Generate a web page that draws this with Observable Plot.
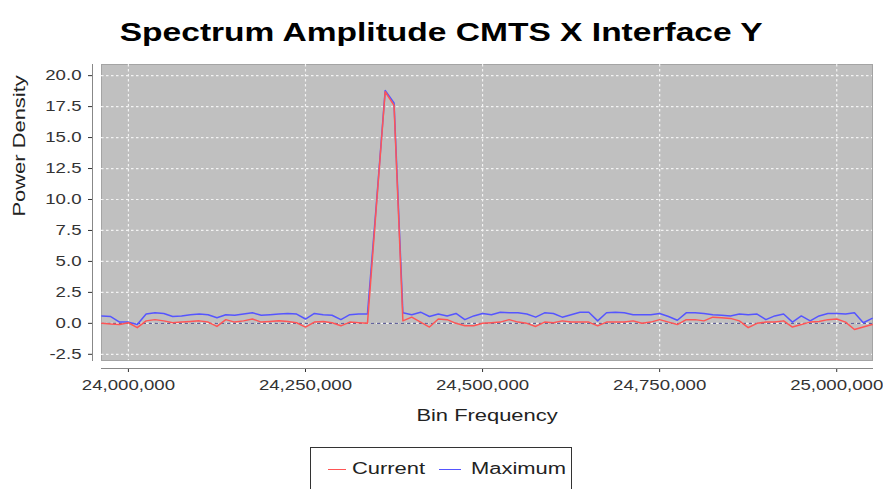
<!DOCTYPE html>
<html><head><meta charset="utf-8">
<script src="https://cdn.jsdelivr.net/npm/d3@7"></script>
<script src="https://cdn.jsdelivr.net/npm/@observablehq/plot@0.6"></script>
<style>
body{margin:0;background:#fff;overflow:hidden;font-family:"Liberation Sans",Arial,sans-serif;}
#wrap{position:relative;width:883px;height:489px;overflow:hidden;background:#fff;}
#title{height:55px;text-align:center;line-height:64px;font-weight:bold;font-size:26px;color:#000;white-space:nowrap;}
#title span{display:inline-block;transform:scaleX(1.29);transform-origin:center;}
#chart{height:392px;}
#legend{position:absolute;left:310px;top:447px;width:260px;height:46px;border:1px solid #333;background:#fff;}
#legend .sw{position:absolute;height:1px;top:21px;}
#legend .lb{position:absolute;top:12px;font-size:16px;line-height:18px;color:#222;transform:scaleX(1.37);transform-origin:left center;white-space:nowrap;}
</style></head>
<body>
<div id="wrap">
  <div id="title"><span>Spectrum Amplitude CMTS X Interface Y</span></div>
  <div id="chart"></div>
  <div id="legend"></div>
</div>
<script>
const seriesNames = ["Current", "Maximum"];
const seriesColors = ["#ff5555", "#5555ff"];
const freqs = [23962500,23975000,23987500,24000000,24012500,24025000,24037500,24050000,24062500,24075000,
24087500,24100000,24112500,24125000,24137500,24150000,24162500,24175000,24187500,24200000,
24212500,24225000,24237500,24250000,24262500,24275000,24287500,24300000,24312500,24325000,
24337500,24350000,24362500,24375000,24387500,24400000,24412500,24425000,24437500,24450000,
24462500,24475000,24487500,24500000,24512500,24525000,24537500,24550000,24562500,24575000,
24587500,24600000,24612500,24625000,24637500,24650000,24662500,24675000,24687500,24700000,
24712500,24725000,24737500,24750000,24762500,24775000,24787500,24800000,24812500,24825000,
24837500,24850000,24862500,24875000,24887500,24900000,24912500,24925000,24937500,24950000,
24962500,24975000,24987500,25000000,25012500,25025000,25037500,25050000];
const maximum = [0.6,0.55,0.1,0.1,-0.1,0.75,0.85,0.8,0.55,0.6,
0.7,0.75,0.7,0.45,0.7,0.65,0.75,0.85,0.65,0.7,
0.75,0.8,0.75,0.35,0.8,0.7,0.65,0.3,0.7,0.75,
0.75,9.6,18.8,17.8,0.85,0.7,0.9,0.55,0.75,0.6,
0.8,0.3,0.6,0.8,0.7,0.9,0.85,0.85,0.75,0.5,
0.85,0.8,0.5,0.7,0.9,0.9,0.2,0.85,0.9,0.85,
0.7,0.7,0.7,0.8,0.55,0.25,0.85,0.85,0.8,0.7,
0.65,0.6,0.75,0.7,0.75,0.3,0.6,0.75,0.1,0.6,
0.2,0.6,0.8,0.8,0.75,0.85,0.05,0.4];
const current = [0.0,-0.05,-0.1,0.05,-0.35,0.2,0.3,0.2,0.05,0.1,
0.15,0.2,0.1,-0.25,0.3,0.1,0.2,0.35,0.1,0.15,
0.2,0.15,0.05,-0.3,0.1,0.15,0.05,-0.2,0.1,0.05,
0.0,9.4,18.7,17.6,0.2,0.5,0.1,-0.3,0.35,0.3,
0.0,-0.2,-0.2,0.0,0.05,0.1,0.3,0.1,0.0,-0.25,
0.1,0.05,0.2,0.1,0.1,0.1,-0.2,0.1,0.1,0.1,
0.2,0.0,0.1,0.3,0.1,-0.1,0.3,0.3,0.2,0.5,
0.45,0.4,0.2,-0.35,0.0,0.1,0.1,0.2,-0.3,-0.1,
0.1,0.15,0.3,0.35,0.1,-0.5,-0.3,-0.1];
const xTicks = [24000000, 24250000, 24500000, 24750000, 25000000];
const yTicks = [-2.5, 0, 2.5, 5, 7.5, 10, 12.5, 15, 17.5, 20];
const zeroLine = [0];
const xLabel = "Bin Frequency";
const yLabel = "Power Density";

const maxData = freqs.map((f, i) => ({freq: f, value: maximum[i], series: "Maximum"}));
const curData = freqs.map((f, i) => ({freq: f, value: current[i], series: "Current"}));

const chart = Plot.plot({
  width: 883, height: 392,
  marginLeft: 101, marginRight: 11, marginTop: 9, marginBottom: 87,
  style: {fontFamily: '"Liberation Sans", Arial, sans-serif', fontSize: "14px", background: "transparent", color: "#333"},
  x: {domain: [23962000, 25050500]},
  y: {domain: [-3.0, 20.9]},
  color: {domain: seriesNames, range: seriesColors},
  marks: [
    Plot.frame({fill: "#c0c0c0", stroke: "#a4a4a4"}),
    Plot.gridY(yTicks, {stroke: "#f6f6f6", strokeOpacity: 0.95, strokeWidth: 1.2, strokeDasharray: "2.5,2.5"}),
    Plot.gridX(xTicks, {stroke: "#f6f6f6", strokeOpacity: 0.95, strokeWidth: 1.2, strokeDasharray: "2.5,2.5"}),
    Plot.ruleY(zeroLine, {stroke: "#4d4d90", strokeWidth: 1, strokeDasharray: "3,3"}),
    Plot.line(maxData, {x: "freq", y: "value", stroke: "series", strokeWidth: 1.5}),
    Plot.line(curData, {x: "freq", y: "value", stroke: "series", strokeWidth: 1.5}),
    Plot.axisX(xTicks, {tickFormat: d3.format(","), dy: 8, tickSize: 4, tickPadding: 8, label: null, color: "#333"}),
    Plot.axisY(yTicks, {tickFormat: d => d.toFixed(1), dx: -9, tickSize: 4, tickPadding: 7, label: null, color: "#333"}),
    Plot.frame({anchor: "bottom", dy: 8, stroke: "#888"}),
    Plot.frame({anchor: "left", dx: -9, stroke: "#888"}),
    Plot.text([xLabel], {text: d => d, frameAnchor: "bottom", dy: 60, fontSize: 16, fill: "#222"}),
    Plot.text([yLabel], {text: d => d, frameAnchor: "left", dx: -82, dy: 4, rotate: -90, fontSize: 16, fill: "#222"})
  ]
});
document.getElementById("chart").appendChild(chart);
// widen glyphs along the text direction about each text's anchor
chart.querySelectorAll("text").forEach(t => {
  const s = (t.textContent === xLabel || t.textContent === yLabel) ? 1.37 : 1.33;
  const ax = parseFloat(t.getAttribute("x")) || 0;
  const tr = t.getAttribute("transform") || "";
  t.setAttribute("transform", `${tr} translate(${ax},0) scale(${s},1) translate(${-ax},0)`);
});

// legend
const legend = document.getElementById("legend");
const legendItems = [
  {name: seriesNames[0], color: seriesColors[0], sw: 17, swW: 18, lb: 41},
  {name: seriesNames[1], color: seriesColors[1], sw: 128, swW: 22, lb: 160}
];
legendItems.forEach(it => {
  const s = document.createElement("div");
  s.className = "sw"; s.style.left = it.sw + "px"; s.style.width = it.swW + "px"; s.style.background = it.color;
  legend.appendChild(s);
  const l = document.createElement("div");
  l.className = "lb"; l.style.left = it.lb + "px"; l.textContent = it.name;
  legend.appendChild(l);
});
</script>
</body></html>
